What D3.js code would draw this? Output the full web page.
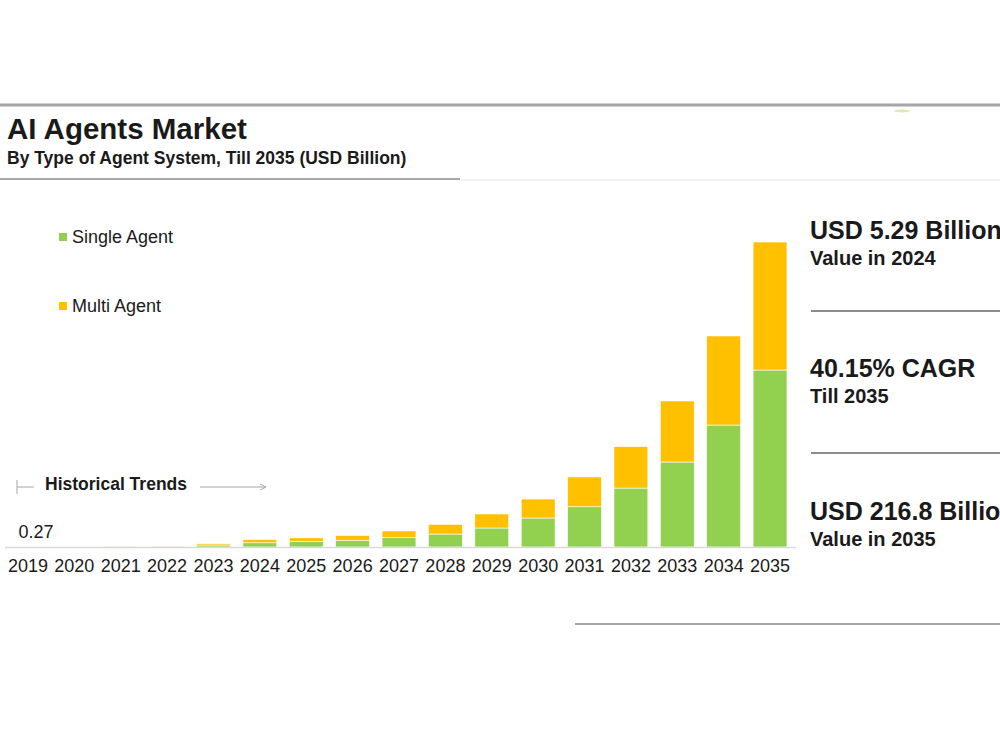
<!doctype html>
<html lang="en">
<head>
    <title>AI Agents Market</title>
    <script src="https://d3js.org/d3.v7.min.js"></script>
    <style>
        body { margin: 0; background: #fff; }
        svg text { font-family: "Liberation Sans", Arial, sans-serif; fill: #1a1a1a; }
    </style>
</head>
<body>
    <div id="chart"></div>
    <script>
        // Chart data (USD Billion)
        var years       = ["2019", "2020", "2021", "2022", "2023", "2024", "2025", "2026", "2027",
                           "2028", "2029", "2030", "2031", "2032", "2033", "2034", "2035"];
        var singleAgent = [0.16, 0.2, 0.26, 0.35, 1.4, 3.0, 3.9, 4.6, 6.6,
                           9.2, 13.5, 20.6, 28.6, 41.9, 60.4, 86.7, 125.8];
        var multiAgent  = [0.11, 0.13, 0.17, 0.24, 0.9, 2.29, 2.6, 3.6, 4.8,
                           6.9, 10.0, 13.5, 21.2, 29.4, 43.4, 63.3, 91.0];
        var seriesNames  = ["Single Agent", "Multi Agent"];
        var seriesColors = ["#92d050", "#ffc000"];

        var width  = 1000;
        var height = 750;

        var svg = d3.select("#chart")
            .append("svg")
            .attr("width", width)
            .attr("height", height);

        // Header lines and titles
        svg.append("line").attr("x1", 0).attr("x2", 1000).attr("y1", 105).attr("y2", 105)
            .attr("stroke", "#a6a6a6").attr("stroke-width", 3);
        svg.append("ellipse").attr("cx", 902).attr("cy", 111).attr("rx", 8).attr("ry", 1.5)
            .attr("fill", "#dcecae");
        svg.append("text").attr("x", 7).attr("y", 139)
            .attr("font-size", 29.5).attr("font-weight", "bold")
            .text("AI Agents Market");
        svg.append("text").attr("x", 7).attr("y", 164)
            .attr("font-size", 17.5).attr("font-weight", "bold").attr("fill", "#262626")
            .text("By Type of Agent System,  Till 2035 (USD Billion)");
        svg.append("line").attr("x1", 0).attr("x2", 460).attr("y1", 179).attr("y2", 179)
            .attr("stroke", "#a6a6a6").attr("stroke-width", 2);
        svg.append("line").attr("x1", 460).attr("x2", 1000).attr("y1", 180).attr("y2", 180)
            .attr("stroke", "#e6e6e6").attr("stroke-width", 1);

        // Scales
        var baseline = 547;
        var x = d3.scaleBand()
            .domain(years)
            .range([5, 793])
            .paddingInner(0.27)
            .paddingOuter(0.13);

        var y = d3.scaleLinear()
            .domain([0, 216.8])
            .range([baseline, 242]);

        // Stacked data
        var rows = years.map(function(yr, i) {
            return { year: yr, "Single Agent": singleAgent[i], "Multi Agent": multiAgent[i] };
        });
        var stacked = d3.stack().keys(seriesNames)(rows);

        var layer = svg.selectAll("g.layer")
            .data(stacked)
            .enter()
            .append("g")
            .attr("class", "layer")
            .attr("fill", function(d, i) { return seriesColors[i]; });

        layer.selectAll("rect")
            .data(function(d) { return d; })
            .enter()
            .append("rect")
            .attr("x", function(d) { return x(d.data.year); })
            .attr("width", x.bandwidth())
            .attr("y", function(d) { return y(d[1]); })
            .attr("height", function(d) { return y(d[0]) - y(d[1]); })
            .attr("stroke", "#fff")
            .attr("stroke-width", 0.6);

        // Axis line and year labels
        var xAxis = svg.append("g")
            .attr("transform", "translate(0," + baseline + ")")
            .call(d3.axisBottom(x).tickSize(0).tickPadding(12));
        xAxis.select(".domain").attr("stroke", "#d9d9d9").attr("stroke-width", 1.5)
            .attr("d", "M5,0.5H796");
        xAxis.selectAll("text")
            .attr("font-size", 18)
            .attr("font-family", "'Liberation Sans', Arial, sans-serif")
            .attr("fill", "#262626");

        // First value label
        svg.append("text")
            .attr("x", x(years[0]) + x.bandwidth() / 2 + 8)
            .attr("y", 538)
            .attr("text-anchor", "middle")
            .attr("font-size", 18)
            .attr("fill", "#262626")
            .text(d3.format(".2f")(singleAgent[0] + multiAgent[0]));

        // Historical trends marker
        var hist = svg.append("g").attr("stroke", "#a6a6a6").attr("stroke-width", 1);
        hist.append("line").attr("x1", 17).attr("x2", 17).attr("y1", 480).attr("y2", 494);
        hist.append("line").attr("x1", 17).attr("x2", 34).attr("y1", 487).attr("y2", 487);
        hist.append("line").attr("x1", 200).attr("x2", 265).attr("y1", 487).attr("y2", 487);
        hist.append("path").attr("d", "M260,484L266,487L260,490").attr("fill", "none");
        svg.append("text").attr("x", 45).attr("y", 490)
            .attr("font-size", 17.5).attr("font-weight", "bold").attr("fill", "#262626")
            .text("Historical Trends");

        // Legend
        var legend = svg.selectAll("g.legend")
            .data(seriesNames)
            .enter()
            .append("g")
            .attr("class", "legend")
            .attr("transform", function(d, i) { return "translate(59," + (233 + i * 69) + ")"; });
        legend.append("rect")
            .attr("width", 8).attr("height", 8)
            .attr("fill", function(d, i) { return seriesColors[i]; });
        legend.append("text")
            .attr("x", 13).attr("y", 10)
            .attr("font-size", 18).attr("fill", "#262626")
            .text(function(d) { return d; });

        // Right-hand key figures
        var stats = [
            { big: "USD 5.29 Billion",  small: "Value in 2024", y: 239 },
            { big: "40.15% CAGR",       small: "Till 2035",     y: 377 },
            { big: "USD 216.8 Billion", small: "Value in 2035", y: 520 }
        ];
        stats.forEach(function(s) {
            svg.append("text").attr("x", 810).attr("y", s.y)
                .attr("font-size", 25).attr("font-weight", "bold")
                .text(s.big);
            svg.append("text").attr("x", 810).attr("y", s.y + 26)
                .attr("font-size", 20).attr("font-weight", "bold").attr("fill", "#262626")
                .text(s.small);
        });
        [311, 453].forEach(function(ly) {
            svg.append("line").attr("x1", 811).attr("x2", 1000).attr("y1", ly).attr("y2", ly)
                .attr("stroke", "#8c8c8c").attr("stroke-width", 2);
        });
        svg.append("line").attr("x1", 575).attr("x2", 1000).attr("y1", 624).attr("y2", 624)
            .attr("stroke", "#a6a6a6").attr("stroke-width", 2);
    </script>
</body>
</html>
